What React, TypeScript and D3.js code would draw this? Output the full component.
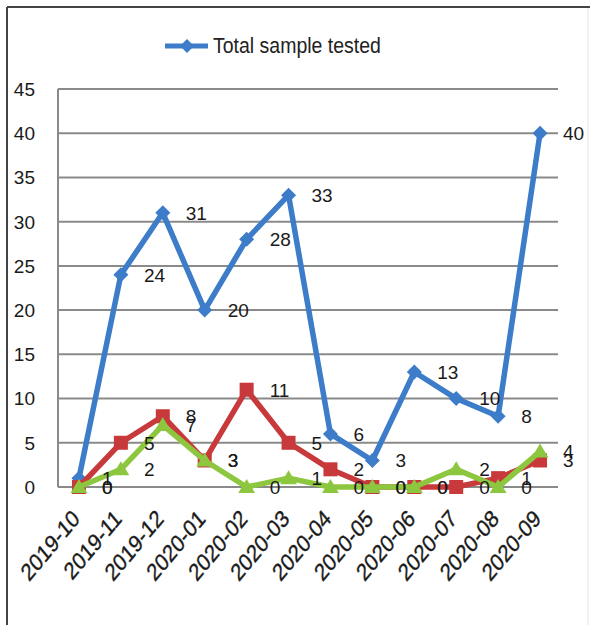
import React from "react";
import * as d3 from "d3";

const categories = ["2019-10","2019-11","2019-12","2020-01","2020-02","2020-03","2020-04","2020-05","2020-06","2020-07","2020-08","2020-09"];
const totalTested = [1, 24, 31, 20, 28, 33, 6, 3, 13, 10, 8, 40];
const redSeries = [0, 5, 8, 3, 11, 5, 2, 0, 0, 0, 1, 3];
const greenSeries = [0, 2, 7, 3, 0, 1, 0, 0, 0, 2, 0, 4];
const yTicks = [0, 5, 10, 15, 20, 25, 30, 35, 40, 45];
const legendLabel = "Total sample tested";

const W = 590, H = 625;
const BLUE = "#3D7CC9", RED = "#C8393B", GREEN = "#8DC63F";
const FONT = "'Liberation Sans', Arial, sans-serif";

export default function App() {
  const x = d3.scaleBand<string>().domain(categories).range([58, 561]);
  const cx = (c: string) => (x(c) as number) + x.bandwidth() / 2;
  const y = d3.scaleLinear().domain([0, 45]).range([487, 89]);
  const line = d3.line<number>().x((_, i) => cx(categories[i])).y(d => y(d));

  const diamond = (px: number, py: number, r: number) => `M${px},${py - r}L${px + r},${py}L${px},${py + r}L${px - r},${py}Z`;
  const tri = (px: number, py: number, r: number) => `M${px},${py - r}L${px + r * 1.05},${py + r * 0.75}L${px - r * 1.05},${py + r * 0.75}Z`;

  const series = [
    { data: totalTested, color: BLUE, marker: "diamond" },
    { data: redSeries, color: RED, marker: "square" },
    { data: greenSeries, color: GREEN, marker: "triangle" },
  ];

  return (
    <svg width={W} height={H} style={{ position: "absolute", left: 0, top: 0, background: "#fff" }} fontFamily={FONT}>
      <rect x={0} y={0} width={W} height={H} fill="#fff" />
      <line x1={7} y1={7} x2={W} y2={7} stroke="#444" strokeWidth={2} />
      <line x1={7} y1={7} x2={7} y2={H} stroke="#444" strokeWidth={2} />
      <line x1={588} y1={8} x2={588} y2={H} stroke="#e4e4e4" strokeWidth={1} />

      {/* legend */}
      <line x1={165} y1={46} x2={208} y2={46} stroke={BLUE} strokeWidth={5} />
      <path d={diamond(187, 46, 7)} fill={BLUE} />
      <text x={213} y={53} fontSize={19.5} fill="#222" transform="translate(0,-5.3) scale(1,1.1)">{legendLabel}</text>

      {/* gridlines */}
      {yTicks.map(t => (
        <g key={t}>
          <line x1={58} x2={558} y1={y(t)} y2={y(t)} stroke="#8a8a8a" strokeWidth={2} />
          <text x={35} y={y(t)} dy="0.36em" textAnchor="end" fontSize={19} fill="#1a1a1a">{t}</text>
        </g>
      ))}
      <line x1={58} x2={58} y1={y(45)} y2={y(0)} stroke="#8a8a8a" strokeWidth={2} />

      {/* lines */}
      {series.map((s, k) => (
        <g key={k}>
          <path d={line(s.data) || ""} fill="none" stroke={s.color} strokeWidth={5.5} strokeLinejoin="round" />
          {s.data.map((v, i) => {
            const px = cx(categories[i]), py = y(v);
            if (s.marker === "diamond") return <path key={i} d={diamond(px, py, 7.5)} fill={s.color} />;
            if (s.marker === "square") return <rect key={i} x={px - 7} y={py - 7} width={14} height={14} fill={s.color} />;
            return <path key={i} d={tri(px, py, 8)} fill={s.color} />;
          })}
        </g>
      ))}

      {/* data labels */}
      {series.map((s, k) => (
        <g key={"l" + k}>
          {s.data.map((v, i) => (
            <text key={i} x={cx(categories[i]) + 23} y={y(v)} dy="0.36em" fontSize={19} fill="#1a1a1a">{v}</text>
          ))}
        </g>
      ))}

      {/* x labels */}
      {categories.map(c => (
        <text key={c} transform={`translate(${cx(c) + 2},${520}) scale(1,1.2) rotate(-45)`} textAnchor="end" fontSize={20} fill="#1a1a1a" stroke="#1a1a1a" strokeWidth={0.3}>{c}</text>
      ))}
    </svg>
  );
}
